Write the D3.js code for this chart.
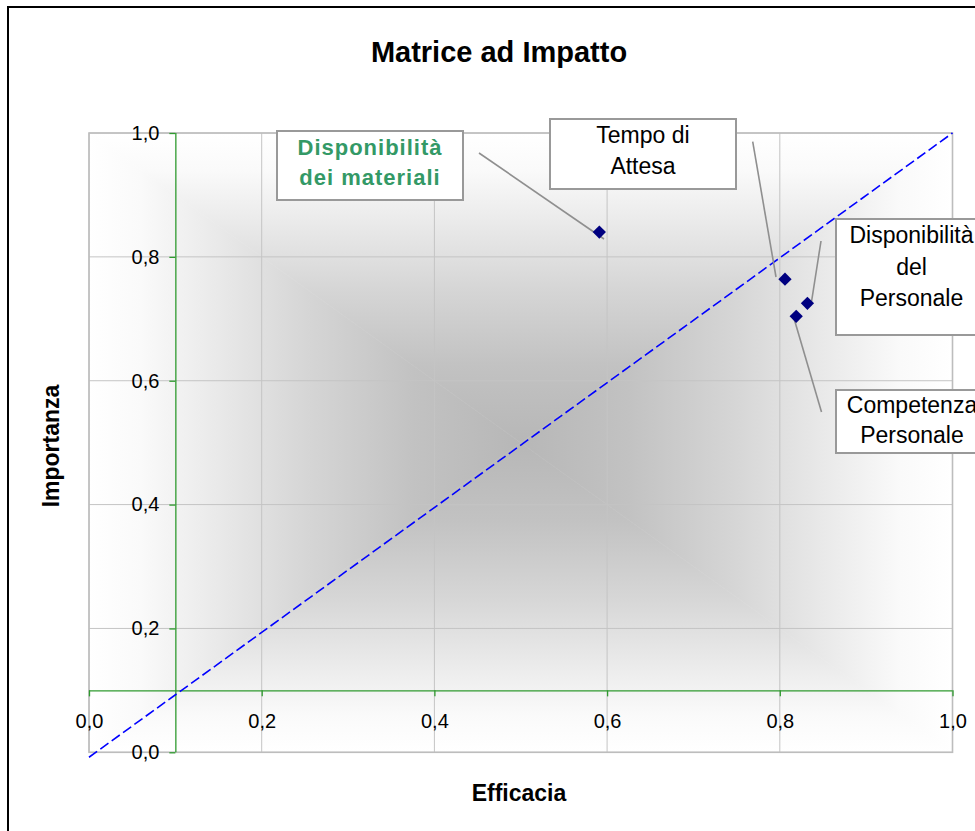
<!DOCTYPE html>
<html>
<head>
<meta charset="utf-8">
<script src="https://cdn.jsdelivr.net/npm/d3@7"></script>
<style>
  html, body { margin: 0; padding: 0; background: #fff; }
  svg { display: block; }
  text { font-family: "Liberation Sans", Arial, sans-serif; }
</style>
</head>
<body>
<div id="chart"></div>
<script>
// ---------- DATA ----------
const categories = ["Disponibilità dei materiali", "Tempo di Attesa", "Disponibilità del Personale", "Competenza Personale"];
const efficacia  = [0.591, 0.806, 0.832, 0.819];
const importanza = [0.840, 0.764, 0.725, 0.704];
const refLineX = [0.0, 1.0];
const refLineY = [-0.008, 1.0];
const xTicks = [0.0, 0.2, 0.4, 0.6, 0.8, 1.0];
const yTicks = [0.0, 0.2, 0.4, 0.6, 0.8, 1.0];
const xTickLabels = ["0,0", "0,2", "0,4", "0,6", "0,8", "1,0"];
const yTickLabels = ["0,0", "0,2", "0,4", "0,6", "0,8", "1,0"];
const axisCross = 0.1;
const titleText = "Matrice ad Impatto";
const xTitle = "Efficacia";
const yTitle = "Importanza";

// ---------- LAYOUT ----------
const W = 975, H = 831;
const plot = { left: 89, right: 952.5, top: 133, bottom: 752.3 };

// label boxes (pixel layout)
const labelLayout = [
  { lines: ["Disponibilità", "dei materiali"], box: [277, 131, 463, 200], base: [155, 185], lead: [479, 153, 604, 239], bold: true, color: "#339966" },
  { lines: ["Tempo di", "Attesa"], box: [550, 119, 736, 189], base: [143, 174], lead: [752.7, 141.7, 776, 277], bold: false, color: "#000" },
  { lines: ["Disponibilità", "del", "Personale"], box: [836, 219, 987, 335], base: [243, 275, 306], lead: [821, 241, 811, 305], bold: false, color: "#000" },
  { lines: ["Competenza", "Personale"], box: [836, 390, 988, 453], base: [413, 443], lead: [793, 315, 821.5, 412], bold: false, color: "#000" }
];

const svg = d3.select("#chart").append("svg").attr("width", W).attr("height", H);

const x = d3.scaleLinear().domain([0, 1]).range([plot.left, plot.right]);
const y = d3.scaleLinear().domain([0, 1]).range([plot.bottom, plot.top]);

// ---------- background rectangular gradient ----------
const defs = svg.append("defs");
const cx = (plot.left + plot.right) / 2, cy = (plot.top + plot.bottom) / 2;
const stops = [
  [0, "#b7b7b7"], [0.25, "#c2c2c2"], [0.5, "#d6d6d6"], [0.7, "#e9e9e9"], [0.88, "#fafafa"], [1, "#ffffff"]
];
function grad(id, x1, y1, x2, y2) {
  const g = defs.append("linearGradient").attr("id", id).attr("gradientUnits", "userSpaceOnUse")
    .attr("x1", x1).attr("y1", y1).attr("x2", x2).attr("y2", y2);
  stops.forEach(s => g.append("stop").attr("offset", s[0]).attr("stop-color", s[1]));
}
grad("gT", cx, cy, cx, plot.top);
grad("gB", cx, cy, cx, plot.bottom);
grad("gL", cx, cy, plot.left, cy);
grad("gR", cx, cy, plot.right, cy);
const L = plot.left, R = plot.right, T = plot.top, B = plot.bottom;
const tris = [
  ["gT", [[L, T], [R, T], [cx, cy]]],
  ["gB", [[L, B], [R, B], [cx, cy]]],
  ["gL", [[L, T], [L, B], [cx, cy]]],
  ["gR", [[R, T], [R, B], [cx, cy]]]
];
const bg = svg.append("g");
tris.forEach(t => {
  bg.append("polygon").attr("points", t[1].map(p => p.join(",")).join(" "))
    .attr("fill", `url(#${t[0]})`).attr("stroke", `url(#${t[0]})`).attr("stroke-width", 0.6);
});

// ---------- gridlines ----------
const grid = svg.append("g").attr("stroke", "#c4c4c4").attr("stroke-width", 1);
xTicks.forEach(v => grid.append("line").attr("x1", x(v)).attr("x2", x(v)).attr("y1", T).attr("y2", B));
yTicks.forEach(v => grid.append("line").attr("y1", y(v)).attr("y2", y(v)).attr("x1", L).attr("x2", R));

// plot border
svg.append("rect").attr("x", L).attr("y", T).attr("width", R - L).attr("height", B - T)
  .attr("fill", "none").attr("stroke", "#bdbdbd").attr("stroke-width", 1.6);

// ---------- axes (crossing at 0.1) ----------
const green = "#2f9a2f";
const xAxis = d3.axisBottom(x).tickValues(xTicks).tickSize(6).tickPadding(17)
  .tickFormat((d, i) => xTickLabels[i]);
const gx = svg.append("g").attr("transform", `translate(0,${y(axisCross)})`).call(xAxis);
gx.select(".domain").attr("stroke", green).attr("stroke-width", 1.3).attr("d", `M${L},0.5H${R}`);
gx.selectAll(".tick line").attr("stroke", green).attr("stroke-width", 1.3);
gx.selectAll(".tick text").attr("font-size", 20).attr("fill", "#000")
  .style("font-family", "'Liberation Sans', Arial, sans-serif");

const yAxis = d3.axisLeft(y).tickValues(yTicks).tickSize(6).tickPadding(10)
  .tickFormat((d, i) => yTickLabels[i]);
const gy = svg.append("g").attr("transform", `translate(${x(axisCross)},0)`).call(yAxis);
gy.select(".domain").attr("stroke", green).attr("stroke-width", 1.3).attr("d", `M0.5,${T}V${B}`);
gy.selectAll(".tick line").attr("stroke", green).attr("stroke-width", 1.3);
gy.selectAll(".tick text").attr("font-size", 20).attr("fill", "#000")
  .style("font-family", "'Liberation Sans', Arial, sans-serif");

// ---------- reference line ----------
const refData = refLineX.map((v, i) => [v, refLineY[i]]);
svg.append("path").datum(refData)
  .attr("d", d3.line().x(d => x(d[0])).y(d => y(d[1])))
  .attr("fill", "none").attr("stroke", "#0000ff").attr("stroke-width", 1.6)
  .attr("stroke-dasharray", "10,4");

// ---------- leader lines ----------
labelLayout.forEach(l => {
  svg.append("line").attr("x1", l.lead[0]).attr("y1", l.lead[1]).attr("x2", l.lead[2]).attr("y2", l.lead[3])
    .attr("stroke", "#8f8f8f").attr("stroke-width", 1.6);
});

// ---------- markers ----------
const pts = categories.map((c, i) => ({ c, x: efficacia[i], y: importanza[i] }));
svg.append("g").selectAll("path").data(pts).join("path")
  .attr("d", d3.symbol().type(d3.symbolSquare).size(88))
  .attr("transform", d => `translate(${x(d.x)},${y(d.y)}) rotate(45)`)
  .attr("fill", "#000080");

// ---------- label boxes ----------
labelLayout.forEach(l => {
  const [x1, y1, x2, y2] = l.box;
  svg.append("rect").attr("x", x1).attr("y", y1).attr("width", x2 - x1).attr("height", y2 - y1)
    .attr("fill", "#fff").attr("stroke", "#999").attr("stroke-width", 2);
  l.lines.forEach((t, i) => {
    svg.append("text").attr("x", (x1 + x2) / 2).attr("y", l.base[i])
      .attr("text-anchor", "middle").attr("font-size", l.bold ? 22 : 23)
      .attr("font-weight", l.bold ? "bold" : "normal")
      .attr("letter-spacing", l.bold ? 1 : 0)
      .attr("fill", l.color).text(t);
  });
});

// ---------- titles ----------
svg.append("text").attr("x", 499).attr("y", 62).attr("text-anchor", "middle")
  .attr("font-size", 29).attr("font-weight", "bold").text(titleText);
svg.append("text").attr("x", 519).attr("y", 801).attr("text-anchor", "middle")
  .attr("font-size", 23).attr("font-weight", "bold").text(xTitle);
svg.append("text").attr("transform", "translate(59,446) rotate(-90)").attr("text-anchor", "middle")
  .attr("font-size", 23).attr("font-weight", "bold").text(yTitle);

// ---------- chart border ----------
svg.append("path").attr("d", `M8,${H + 5}V7H${W + 5}`)
  .attr("fill", "none").attr("stroke", "#000").attr("stroke-width", 2);
</script>
</body>
</html>
